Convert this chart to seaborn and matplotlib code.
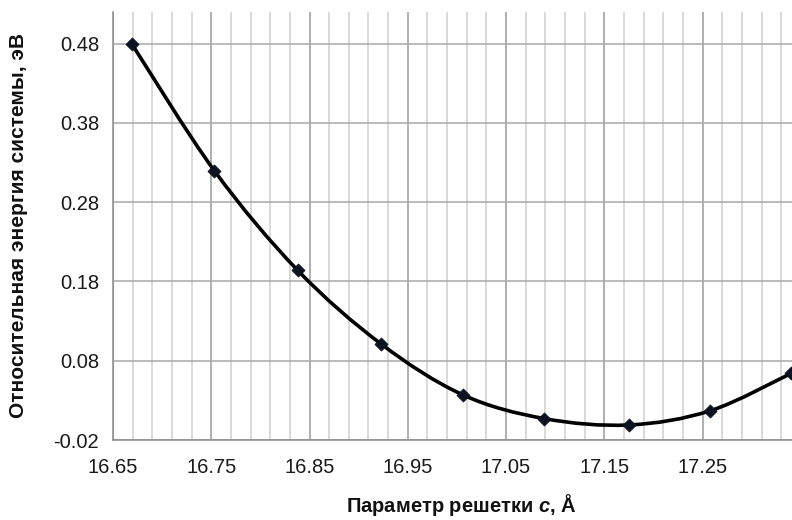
import numpy as np
import pandas as pd
import matplotlib
matplotlib.use("Agg")
import matplotlib.pyplot as plt
from matplotlib.path import Path
from matplotlib.patches import PathPatch
from matplotlib.ticker import MultipleLocator, FixedLocator
import seaborn as sns

# data
lattice_c = [16.669, 16.753, 16.838, 16.923, 17.006, 17.089, 17.175, 17.258, 17.340]
energy = [0.480, 0.320, 0.194, 0.101, 0.037, 0.007, -0.001, 0.017, 0.064]
x_ticks = [16.65, 16.75, 16.85, 16.95, 17.05, 17.15, 17.25]
y_ticks = [-0.02, 0.08, 0.18, 0.28, 0.38, 0.48]
x_label = "Параметр решетки $\\mathbfit{c}$, Å"
y_label = "Относительная энергия системы, эВ"

sns.set_theme(style="white")
plt.rcParams["font.family"] = ["Liberation Sans", "DejaVu Sans"]
plt.rcParams["mathtext.fontset"] = "custom"
plt.rcParams["mathtext.bfit"] = "Liberation Sans:italic:bold"
plt.rcParams["mathtext.rm"] = "Liberation Sans"
plt.rcParams["mathtext.it"] = "Liberation Sans:italic"
plt.rcParams["mathtext.bf"] = "Liberation Sans:bold"

df = pd.DataFrame({"c": lattice_c, "E": energy})

fig = plt.figure(figsize=(7.92, 5.2), dpi=100)
ax = fig.add_axes([113 / 792, 80 / 520, 679 / 792, 428 / 520])

# smooth (Excel-style) bezier through the data points
pts = np.column_stack([df["c"].values, df["E"].values])
verts = [tuple(pts[0])]
codes = [Path.MOVETO]
n = len(pts)
for i in range(n - 1):
    p0 = pts[i - 1] if i > 0 else pts[i]
    p1 = pts[i]
    p2 = pts[i + 1]
    p3 = pts[i + 2] if i + 2 < n else pts[i + 1]
    c1 = p1 + (p2 - p0) / 6.0
    c2 = p2 - (p3 - p1) / 6.0
    verts += [tuple(c1), tuple(c2), tuple(p2)]
    codes += [Path.CURVE4] * 3
ax.add_patch(PathPatch(Path(verts, codes), facecolor="none", edgecolor="black",
                       lw=2.6, zorder=3, capstyle="round"))

sns.scatterplot(data=df, x="c", y="E", marker="D", s=45, color="#0d1220",
                edgecolor="#0d1220", linewidth=0.5, ax=ax, zorder=4, clip_on=True)

ax.set_xlim(16.65, 17.341)
ax.set_ylim(-0.02, 0.52)
ax.xaxis.set_major_locator(FixedLocator(x_ticks))
ax.xaxis.set_minor_locator(MultipleLocator(0.02, offset=0.01))
ax.yaxis.set_major_locator(FixedLocator(y_ticks))
ax.set_xticklabels([f"{v:.2f}" for v in x_ticks])
ax.set_yticklabels([f"{v:.2f}" for v in y_ticks])

ax.grid(which="major", axis="x", color="#9a9a9a", lw=1.1)
ax.grid(which="minor", axis="x", color="#cfcfcf", lw=1.1)
ax.grid(which="major", axis="y", color="#a8a8a8", lw=1.1)
ax.set_axisbelow(True)

for s in ["top", "right"]:
    ax.spines[s].set_visible(False)
for s in ["left", "bottom"]:
    ax.spines[s].set_color("#8c8c8c")
    ax.spines[s].set_linewidth(1.1)

ax.tick_params(axis="both", which="major", direction="out", length=5, width=1.1,
               color="#8c8c8c", labelsize=14.5, labelcolor="#1a1a1a", pad=5)
ax.tick_params(axis="x", which="minor", length=0)
ax.tick_params(axis="x", which="major", pad=8)

ax.set_xlabel(x_label, fontsize=14.5, fontweight="bold", color="#111111")
ax.set_ylabel(y_label, fontsize=15, fontweight="bold", color="#111111")
ax.xaxis.set_label_coords(0.513, -0.122)
ax.yaxis.set_label_coords(-0.125, 0.502)

fig.savefig("out.png", dpi=100, facecolor="white")
